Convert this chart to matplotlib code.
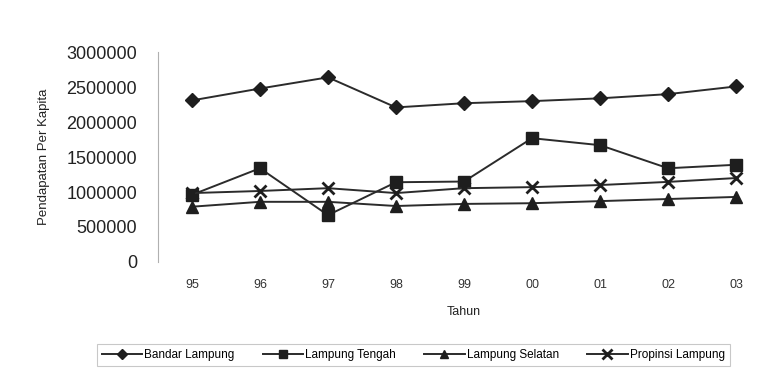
import matplotlib
matplotlib.use("Agg")
import matplotlib.pyplot as plt

plt.rcParams["font.family"] = ["Liberation Sans", "DejaVu Sans"]

# data
tahun = ["95", "96", "97", "98", "99", "00", "01", "02", "03"]
bandar_lampung = [2310000, 2480000, 2640000, 2210000, 2270000, 2300000, 2340000, 2400000, 2510000]
lampung_tengah = [960000, 1340000, 670000, 1140000, 1150000, 1770000, 1670000, 1340000, 1390000]
lampung_selatan = [790000, 860000, 860000, 800000, 830000, 840000, 870000, 900000, 930000]
propinsi_lampung = [985000, 1015000, 1055000, 985000, 1055000, 1070000, 1100000, 1145000, 1200000]

series = [
    ("Bandar Lampung", bandar_lampung, "D", 7),
    ("Lampung Tengah", lampung_tengah, "s", 8),
    ("Lampung Selatan", lampung_selatan, "^", 8),
    ("Propinsi Lampung", propinsi_lampung, "x", 9),
]

fig = plt.figure(figsize=(7.74, 3.70), dpi=100)
ax = fig.add_axes([0.204, 0.292, 0.791, 0.567])

x = list(range(len(tahun)))
for name, vals, mk, ms in series:
    ax.plot(
        x, vals, color="#2b2b2b", linewidth=1.4, marker=mk, markersize=ms,
        markerfacecolor="#1e1e1e", markeredgecolor="#1e1e1e",
        markeredgewidth=2 if mk == "x" else 1, label=name,
    )

ax.set_xlim(-0.5, len(tahun) - 0.5)
ax.set_ylim(0, 3000000)
ax.set_yticks(range(0, 3000001, 500000))
ax.set_yticklabels([str(v) for v in range(0, 3000001, 500000)], fontsize=13, color="#222222")
ax.set_xticks(x)
ax.set_xticklabels(tahun, fontsize=9, color="#333333")
ax.tick_params(axis="y", length=0, pad=15)
ax.tick_params(axis="x", length=0, pad=12)

for side in ["top", "right", "bottom"]:
    ax.spines[side].set_visible(False)
ax.spines["left"].set_color("#b0b0b0")
ax.spines["left"].set_linewidth(0.8)

ax.set_ylabel("Pendapatan Per Kapita", fontsize=9.5, color="#222222", labelpad=12)
ax.set_xlabel("Tahun", fontsize=9, color="#222222", labelpad=11)

leg = fig.legend(
    loc="center", bbox_to_anchor=(0.534, 0.040), ncol=4, fontsize=8.5,
    frameon=True, fancybox=False, handlelength=3.4, handletextpad=0.2,
    columnspacing=2.4, borderpad=0.4, markerscale=0.75,
)
leg.get_frame().set_edgecolor("#bbbbbb")
leg.get_frame().set_linewidth(0.8)

fig.savefig("out.png", dpi=100)
